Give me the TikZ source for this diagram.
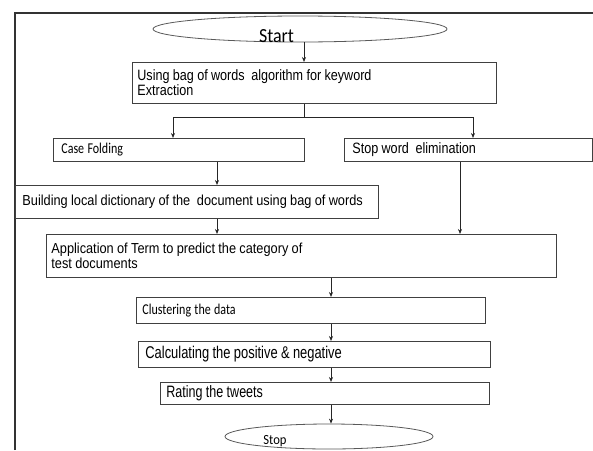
\documentclass[tikz,border=0pt]{standalone}
\usepackage{fontspec}
\setmainfont{Liberation Sans}[FakeStretch=0.84]
\newfontfamily\widerfont{Liberation Sans}[FakeStretch=0.88]
\newfontfamily\narrowfont{Liberation Sans}[FakeStretch=0.76]
\newfontfamily\condfont{Carlito}[FakeStretch=0.8]
\newfontfamily\ellfont{Carlito}[FakeStretch=0.9]
\usetikzlibrary{arrows.meta,shapes.geometric}
\begin{document}
\begin{tikzpicture}[x=1pt,y=-1pt,
  box/.style={draw=black!75, line width=0.8pt, rectangle, anchor=north west,
    inner ysep=0pt, align=left, text=black},
  term/.style={draw=black!65, line width=0.8pt, ellipse, inner sep=0pt, text=black},
  arr/.style={draw=black!85, line width=0.7pt, -{Stealth[length=5pt,width=4pt]}},
  con/.style={draw=black!85, line width=0.7pt},
  frame/.style={draw=black!80, line width=1.6pt}]
\useasboundingbox (0,0) rectangle (593,450);
\draw[frame] (15,450) -- (15,13) -- (593,13);

\node[term, minimum width=294pt, minimum height=26pt] (start) at (300,29)
  {\raisebox{-13pt}[0pt][0pt]{\makebox[0pt]{\ellfont\fontsize{20}{22}\selectfont Start\hspace{47pt}}}};

\node[box, text width=354pt, inner xsep=5pt, minimum height=41pt] (b1) at (132,62)
  {\fontsize{15}{16}\selectfont Using bag of words\ \ algorithm for keyword\\Extraction};

\node[box, text width=235pt, inner xsep=8pt, minimum height=23pt] (case) at (53,138)
  {\condfont\fontsize{15}{15}\selectfont Case Folding};
\node[box, text width=232pt, inner xsep=8pt, minimum height=23pt] (stopw) at (344,138)
  {\fontsize{15}{15}\selectfont Stop word\ \ elimination};

\node[box, text width=349pt, inner xsep=7pt, minimum height=33pt] (build) at (15,185)
  {\widerfont\fontsize{14.5}{15}\selectfont Building local dictionary of the\ \ document using bag of words};

\node[box, text width=500pt, inner xsep=5pt, minimum height=43pt] (app) at (46,234)
  {\widerfont\fontsize{14.5}{17}\selectfont Application of Term to predict the category of\\test documents};

\node[box, text width=337pt, inner xsep=6pt, minimum height=26pt] (clus) at (136,297)
  {\condfont\fontsize{15}{15}\selectfont Clustering the data};

\node[box, text width=338pt, inner xsep=7pt, minimum height=26pt] (calc) at (138,341)
  {\narrowfont\fontsize{17}{17}\selectfont Calculating the positive \& negative};

\node[box, text width=317pt, inner xsep=6pt, minimum height=22pt] (rate) at (160,382)
  {\narrowfont\fontsize{16.5}{16.5}\selectfont Rating the tweets};

\node[term, minimum width=208pt, minimum height=25pt] (stop) at (329,436.5)
  {\raisebox{-8pt}[0pt][0pt]{\makebox[0pt]{\ellfont\fontsize{14}{16}\selectfont Stop\hspace{108pt}}}};

\coordinate (a0) at (304,0);
\coordinate (split) at (304,117);
\coordinate (jl) at (173,117);
\coordinate (jr) at (473,117);
\coordinate (a1) at (217,0);
\coordinate (a2) at (460,0);
\coordinate (mx) at (331,0);

\draw[arr] (start.south -| a0) -- (b1.north -| a0);
\draw[con] (b1.south -| a0) -- (split);
\draw[con] (jl) -- (jr);
\draw[arr] (jl) -- (case.north -| jl);
\draw[arr] (jr) -- (stopw.north -| jr);
\draw[arr] (case.south -| a1) -- (build.north -| a1);
\draw[arr] (build.south -| a1) -- (app.north -| a1);
\draw[arr] (stopw.south -| a2) -- (app.north -| a2);
\draw[arr] (app.south -| mx) -- (clus.north -| mx);
\draw[arr] (clus.south -| mx) -- (calc.north -| mx);
\draw[arr] (calc.south -| mx) -- (rate.north -| mx);
\draw[arr] (rate.south -| mx) -- (stop.north -| mx);
\end{tikzpicture}
\end{document}
